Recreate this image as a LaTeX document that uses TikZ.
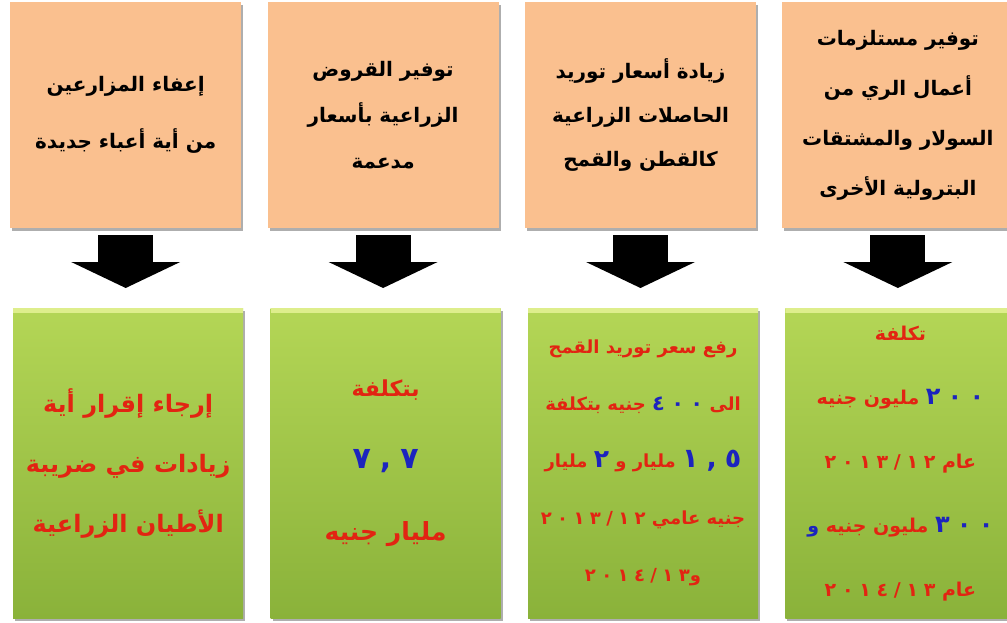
\documentclass[tikz,border=0pt]{standalone}
\usepackage{fontspec}
\usetikzlibrary{arrows.meta, positioning, shadows}
\TeXXeTstate=1
\newfontfamily\arabicfont[Script=Arabic]{DejaVu Sans}
\newfontfamily\arabicnum[Script=Arabic, LetterSpace=30]{DejaVu Sans}
% blue comes with the font, so no colour specials get reversed in RTL text
\newfontfamily\arabicbluenum[Script=Arabic, LetterSpace=30, Color=1C24BE]{DejaVu Sans}
\definecolor{peach}{RGB}{250,192,143}
\definecolor{grtop}{RGB}{180,214,86}
\definecolor{grbot}{RGB}{138,178,58}
\definecolor{grstrip}{RGB}{222,238,140}
\definecolor{arred}{RGB}{226,36,18}
\newcommand{\arb}{\arabicfont\bfseries}
\newcommand{\rl}[1]{\beginR #1\endR}
\newcommand{\bnum}[2][]{\hbox{{#1\arabicbluenum\bfseries #2}}}
\newcommand{\rnum}[1]{\hbox{{\arabicnum\bfseries #1}}}

\begin{document}
\begin{tikzpicture}[x=1pt, y=-1pt,
  causebox/.style 2 args={rectangle, fill=peach, minimum width=231pt,
    minimum height=226pt, inner sep=0pt, align=center, text=black,
    font=\arb\fontsize{#1}{#2}\selectfont,
    drop shadow={shadow xshift=2pt, shadow yshift=-3pt, opacity=.45, fill=black!70}},
  costbox/.style 2 args={rectangle, top color=grtop, bottom color=grbot,
    minimum width=230pt, minimum height=310pt, inner sep=0pt, align=center,
    text=arred, font=\arb\fontsize{#1}{#2}\selectfont,
    path picture={\fill[grstrip] (path picture bounding box.north west)
      rectangle ([yshift=-5pt]path picture bounding box.north east);},
    drop shadow={shadow xshift=2pt, shadow yshift=-3pt, opacity=.45, fill=black!70}},
  downarrow/.style={line width=55pt, black,
    -{Triangle[length=26pt, width=109pt, line width=0pt]},
    shorten <=7pt, shorten >=20pt},
]
  \useasboundingbox[fill=white] (0,0) rectangle (1007,623);

  % --- top row: measures ---
  \node[causebox={20pt}{57pt}, anchor=north west] (t1) at (10,2)
    {\rl{إعفاء المزارعين}\\ \rl{من أية أعباء جديدة}};
  \node[causebox={20pt}{46pt}, right=26pt of t1] (t2)
    {\rl{توفير القروض}\\ \rl{الزراعية بأسعار}\\ \rl{مدعمة}};
  \node[causebox={20pt}{44pt}, right=26pt of t2] (t3)
    {\rl{زيادة أسعار توريد}\\ \rl{الحاصلات الزراعية}\\ \rl{كالقطن والقمح}};
  \node[causebox={20pt}{50pt}, right=26pt of t3] (t4)
    {\rl{توفير مستلزمات}\\ \rl{أعمال الري من}\\ \rl{السولار والمشتقات}\\ \rl{البترولية الأخرى}};

  % --- bottom row: costs ---
  \node[costbox={24pt}{60pt}, anchor=north west] (b1) at (13,308)
    {\rl{إرجاء إقرار أية}\\ \rl{زيادات في ضريبة}\\ \rl{الأطيان الزراعية}};
  \node[costbox={22pt}{72pt}, right=27pt of b1] (b2)
    {\rl{بتكلفة}\\ \bnum[\fontsize{30pt}{30pt}\selectfont]{٧,٧}\\
     {\fontsize{25pt}{72pt}\selectfont\rl{مليار جنيه}}};
  \node[costbox={18pt}{57pt}, right=27pt of b2] (b3)
    {\rl{رفع سعر توريد القمح}\\
     \rl{الى \bnum[\fontsize{21pt}{21pt}\selectfont]{٤٠٠} جنيه بتكلفة}\\
     \rl{\bnum[\fontsize{27pt}{27pt}\selectfont]{١,٥} مليار و \bnum[\fontsize{25pt}{25pt}\selectfont]{٢} مليار}\\
     \rl{جنيه عامي \rnum{٢٠١٣/١٢}}\\
     \rl{و\rnum{٢٠١٤/١٣}}};
  \node[costbox={19pt}{64pt}, right=27pt of b3] (b4)
    {\rl{تكلفة}\\
     \rl{\bnum[\fontsize{24pt}{24pt}\selectfont]{٢٠٠} مليون جنيه}\\
     \rl{عام \rnum{٢٠١٣/١٢}}\\
     \rl{\bnum[\fontsize{24pt}{24pt}\selectfont]{٣٠٠} مليون جنيه \bnum{و}}\\
     \rl{عام \rnum{٢٠١٤/١٣}}};

  % --- block arrows ---
  \foreach \i in {1,...,4}
    \draw[downarrow] (t\i.south) -- (t\i.south |- b\i.north);
\end{tikzpicture}
\end{document}
